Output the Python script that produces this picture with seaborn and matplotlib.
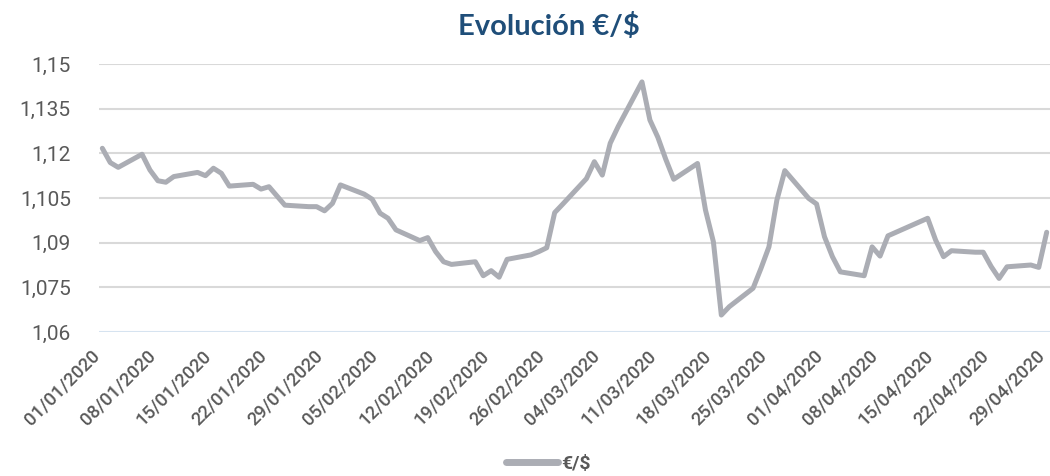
import pandas as pd
import numpy as np
import matplotlib.pyplot as plt
import matplotlib.transforms as mtransforms
from matplotlib.lines import Line2D
import seaborn as sns

# tipo de cambio diario €/$ (días hábiles, ene-abr 2020)
jan_vals = [1.1217, 1.1169, 1.1153, 1.1197, 1.1144, 1.1108, 1.1103, 1.1122, 1.1136, 1.1125,
            1.1150, 1.1133, 1.1090, 1.1096, 1.1080, 1.1088, 1.1057, 1.1026, 1.1021, 1.1021,
            1.1007, 1.1032, 1.1094]
feb_vals = [1.1063, 1.1046, 1.0999, 1.0982, 1.0943, 1.0907, 1.0917, 1.0870, 1.0836, 1.0827,
            1.0836, 1.0789, 1.0806, 1.0784, 1.0844, 1.0859, 1.0870, 1.0883, 1.1001, 1.1029]
mar_vals = [1.1115, 1.1172, 1.1127, 1.1234, 1.1290, 1.1440, 1.1312, 1.1254, 1.1180, 1.1113,
            1.1166, 1.1010, 1.0903, 1.0657, 1.0685, 1.0747, 1.0814, 1.0886, 1.1043, 1.1142,
            1.1049, 1.1030]
apr_vals = [1.0920, 1.0853, 1.0802, 1.0789, 1.0886, 1.0855, 1.0923, 1.0982, 1.0909, 1.0853,
            1.0873, 1.0868, 1.0868, 1.0820, 1.0780, 1.0819, 1.0825, 1.0817, 1.0935]

holidays = ['2020-04-10', '2020-04-13']
dates = pd.bdate_range('2020-01-01', '2020-04-29')
dates = dates[~dates.isin(pd.to_datetime(holidays))]

values = jan_vals + feb_vals + mar_vals + apr_vals
df = pd.DataFrame({'fecha': dates, 'valor': values})

y_ticks = [1.06, 1.075, 1.09, 1.105, 1.12, 1.135, 1.15]
y_labels = ['1,06', '1,075', '1,09', '1,105', '1,12', '1,135', '1,15']
x_ticks = pd.date_range('2020-01-01', '2020-04-29', freq='7D')

line_color = '#ABADB4'
text_color = '#595959'
title_color = '#1F4E79'

sns.set_style('white')
plt.rcParams['font.family'] = ['Roboto', 'DejaVu Sans']

fig = plt.figure(figsize=(10.5, 4.76), dpi=100)
ax = fig.add_axes([0.094, 0.3025, 0.906, 0.563])

sns.lineplot(data=df, x='fecha', y='valor', color=line_color, linewidth=3.6,
             ax=ax, legend=False, solid_capstyle='round', solid_joinstyle='round')

ax.set_xlim(pd.Timestamp('2020-01-01') - pd.Timedelta(hours=11),
            pd.Timestamp('2020-04-29') + pd.Timedelta(hours=10))
ax.set_ylim(1.06, 1.15)

ax.set_yticks(y_ticks)
ax.set_yticklabels(y_labels, fontsize=15, color=text_color)
ax.set_xticks(x_ticks)
ax.set_xticklabels([d.strftime('%d/%m/%Y') for d in x_ticks], rotation=45,
                   ha='right', va='center', rotation_mode='anchor',
                   fontsize=13.2, fontweight=500, color=text_color)
ax.tick_params(axis='both', length=0)
ax.tick_params(axis='x', pad=15)
ax.tick_params(axis='y', pad=20)

# desplazar etiquetas del eje x un poco a la izquierda
shift = mtransforms.ScaledTranslation(-5 / 100, 0, fig.dpi_scale_trans)
for lbl in ax.get_xticklabels():
    lbl.set_transform(lbl.get_transform() + shift)

for yv in y_ticks[1:]:
    ax.axhline(yv, color='#D9D9D9', linewidth=1.5, zorder=0)
ax.axhline(1.06, color='#D6E3F0', linewidth=1.5, zorder=0)

for s in ax.spines.values():
    s.set_visible(False)
ax.set_xlabel('')
ax.set_ylabel('')

fig.text(0.523, 0.945, 'Evolución €/$', ha='center', va='center', fontsize=21,
         fontweight='bold', color=title_color, family=['Lato', 'DejaVu Sans'])

handle = Line2D([], [], color=line_color, linewidth=5, solid_capstyle='round')
leg = fig.legend([handle], ['€/$'], loc='center', bbox_to_anchor=(0.522, 0.025),
                 frameon=False, handlelength=2.7, handletextpad=0.15,
                 prop={'size': 14, 'weight': 'bold'})
for t in leg.get_texts():
    t.set_color(text_color)

fig.savefig('out.png', dpi=100)
plt.close(fig)
